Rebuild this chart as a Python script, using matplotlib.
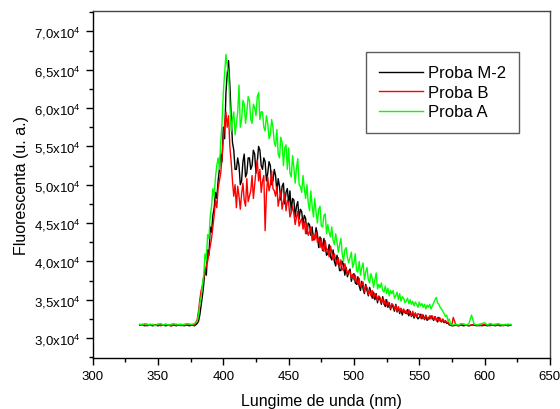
import numpy as np
import matplotlib
matplotlib.use('Agg')
import matplotlib.pyplot as plt
from matplotlib.ticker import MultipleLocator

plt.rcParams['font.family'] = ['Liberation Sans', 'DejaVu Sans']
plt.rcParams['mathtext.fontset'] = 'custom'
plt.rcParams['mathtext.rm'] = 'Liberation Sans'
plt.rcParams['mathtext.it'] = 'Liberation Sans:italic'
plt.rcParams['mathtext.default'] = 'regular'

# ---------------- data (fluorescence in units of 1e4) ----------------
wl_base_left = np.arange(336, 380, 2)     # 22 points
wl_band = np.arange(380, 576, 1)          # 196 points
wl_base_right = np.arange(576, 621, 2)    # 23 points
wavelength = np.concatenate([wl_base_left, wl_band, wl_base_right])

green_left = [3.18, 3.17, 3.19, 3.18, 3.17, 3.18, 3.16, 3.18, 3.19, 3.17, 3.18,
              3.17, 3.18, 3.19, 3.17, 3.18, 3.18, 3.17, 3.19, 3.18, 3.18, 3.19]
green_band = [
    3.22, 3.30, 3.45, 3.52, 3.70, 3.82, 4.10, 4.02, 4.35, 4.30,
    4.60, 4.72, 4.95, 4.85, 5.10, 5.25, 5.35, 5.20, 5.55, 5.80,
    6.20, 6.45, 6.70, 6.55, 6.45, 6.05, 5.70, 5.85, 5.95, 5.65,
    5.80, 5.95, 6.30, 5.75, 5.85, 6.10, 6.05, 5.80, 5.95, 6.15,
    6.10, 5.85, 5.80, 6.05, 6.00, 5.90, 6.15, 6.20, 5.85, 5.95,
    5.95, 5.75, 5.70, 5.90, 5.80, 5.60, 5.65, 5.85, 5.75, 5.55,
    5.50, 5.72, 5.40, 5.35, 5.62, 5.55, 5.25, 5.48, 5.52, 5.20,
    5.48, 5.15, 5.10, 5.38, 5.22, 5.02, 5.22, 5.34, 5.00, 4.98,
    4.90, 5.12, 4.95, 4.82, 5.00, 4.76, 4.66, 4.92, 4.72, 4.58,
    4.82, 4.64, 4.50, 4.68, 4.72, 4.46, 4.45, 4.60, 4.62, 4.36,
    4.48, 4.38, 4.32, 4.45, 4.28, 4.22, 4.36, 4.25, 4.12, 4.22,
    4.30, 4.10, 4.00, 4.15, 4.18, 4.05, 3.98, 4.05, 4.12, 3.92,
    3.98, 4.10, 3.88, 3.86, 4.00, 3.82, 3.92, 3.98, 3.76, 3.86,
    3.92, 3.76, 3.72, 3.84, 3.78, 3.66, 3.76, 3.85, 3.64, 3.70,
    3.66, 3.72, 3.62, 3.60, 3.68, 3.58, 3.65, 3.55, 3.62, 3.58,
    3.62, 3.52, 3.55, 3.60, 3.50, 3.58, 3.48, 3.54, 3.52, 3.46,
    3.48, 3.52, 3.45, 3.50, 3.44, 3.48, 3.42, 3.47, 3.44, 3.40,
    3.47, 3.42, 3.45, 3.40, 3.44, 3.38, 3.43, 3.40, 3.44, 3.38,
    3.42, 3.46, 3.50, 3.53, 3.46, 3.44, 3.40, 3.38, 3.35, 3.32,
    3.28, 3.30, 3.22, 3.25, 3.18, 3.17,
]
green_right = [3.17, 3.18, 3.17, 3.19, 3.18, 3.17, 3.19, 3.30, 3.18, 3.17, 3.18, 3.19,
               3.20, 3.17, 3.19, 3.18, 3.17, 3.19, 3.18, 3.17, 3.18, 3.17, 3.18]

black_left = [3.17, 3.17, 3.16, 3.17, 3.17, 3.16, 3.17, 3.16, 3.17, 3.17, 3.16,
              3.17, 3.16, 3.17, 3.16, 3.17, 3.17, 3.16, 3.17, 3.16, 3.17, 3.16]
black_band = [
    3.19, 3.22, 3.30, 3.42, 3.55, 3.70, 3.90, 3.82, 4.15, 4.08,
    4.45, 4.38, 4.60, 4.70, 4.90, 4.82, 5.05, 5.20, 5.40, 5.30,
    5.75, 5.60, 6.20, 6.45, 6.62, 6.30, 5.90, 5.55, 5.45, 5.20,
    5.20, 5.35, 5.25, 5.00, 5.05, 5.30, 5.40, 5.10, 5.15, 5.35,
    5.35, 5.20, 5.25, 5.45, 5.40, 5.15, 5.30, 5.50, 5.45, 5.25,
    5.20, 5.35, 5.30, 5.05, 5.15, 5.30, 5.25, 5.00, 5.05, 5.20,
    5.12, 4.90, 5.08, 4.98, 4.80, 4.98, 5.02, 4.75, 4.90, 4.95,
    4.75, 4.92, 4.65, 4.82, 4.80, 4.58, 4.72, 4.78, 4.55, 4.68,
    4.65, 4.48, 4.60, 4.56, 4.36, 4.50, 4.48, 4.34, 4.45, 4.28,
    4.30, 4.44, 4.36, 4.18, 4.32, 4.26, 4.14, 4.30, 4.20, 4.08,
    4.10, 4.22, 4.06, 4.02, 4.15, 4.00, 3.94, 4.08, 4.00, 3.88,
    3.88, 4.00, 3.96, 3.82, 3.92, 3.80, 3.86, 3.90, 3.74, 3.82,
    3.84, 3.72, 3.70, 3.80, 3.68, 3.62, 3.74, 3.64, 3.58, 3.70,
    3.62, 3.55, 3.66, 3.60, 3.52, 3.60, 3.50, 3.58, 3.46, 3.54,
    3.50, 3.44, 3.54, 3.45, 3.41, 3.50, 3.40, 3.46, 3.37, 3.44,
    3.40, 3.35, 3.44, 3.34, 3.40, 3.32, 3.38, 3.30, 3.37, 3.33,
    3.32, 3.37, 3.29, 3.35, 3.28, 3.33, 3.26, 3.32, 3.28, 3.25,
    3.27, 3.31, 3.25, 3.30, 3.24, 3.29, 3.23, 3.27, 3.25, 3.29,
    3.26, 3.23, 3.28, 3.24, 3.21, 3.27, 3.23, 3.21, 3.24, 3.20,
    3.22, 3.19, 3.20, 3.17, 3.17, 3.16,
]
black_right = [3.16, 3.17, 3.16, 3.17, 3.16, 3.17, 3.16, 3.17, 3.17, 3.16, 3.17, 3.16,
               3.17, 3.16, 3.17, 3.17, 3.16, 3.17, 3.16, 3.17, 3.17, 3.16, 3.17]

red_left = [3.17, 3.18, 3.17, 3.16, 3.18, 3.17, 3.17, 3.18, 3.16, 3.17, 3.18,
            3.17, 3.16, 3.17, 3.18, 3.17, 3.16, 3.18, 3.17, 3.18, 3.17, 3.17]
red_band = [
    3.24, 3.35, 3.50, 3.62, 3.68, 3.80, 3.85, 3.95, 4.00, 4.10,
    4.20, 4.30, 4.45, 4.60, 4.80, 4.70, 4.95, 5.05, 5.15, 5.35,
    5.60, 5.80, 5.95, 5.75, 5.90, 5.50, 5.30, 5.05, 4.85, 5.00,
    4.70, 4.98, 4.85, 4.68, 4.88, 5.02, 4.80, 4.72, 5.08, 4.78,
    4.85, 4.92, 5.12, 4.82, 5.00, 5.18, 5.32, 5.05, 5.20, 4.90,
    5.05, 5.12, 4.40, 4.88, 5.10, 4.92, 5.00, 5.18, 4.95, 4.92,
    4.85, 4.98, 4.72, 4.82, 4.92, 4.68, 4.78, 4.88, 4.66, 4.80,
    4.76, 4.58, 4.64, 4.72, 4.62, 4.48, 4.58, 4.65, 4.46, 4.52,
    4.56, 4.42, 4.52, 4.36, 4.48, 4.34, 4.38, 4.45, 4.27, 4.36,
    4.28, 4.38, 4.25, 4.30, 4.18, 4.30, 4.16, 4.13, 4.27, 4.15,
    4.16, 4.06, 4.20, 4.12, 4.02, 4.10, 4.03, 3.96, 4.05, 3.92,
    4.02, 3.90, 3.88, 3.97, 3.90, 3.83, 3.88, 3.86, 3.78, 3.83,
    3.76, 3.82, 3.74, 3.70, 3.78, 3.67, 3.70, 3.73, 3.60, 3.68,
    3.66, 3.57, 3.63, 3.55, 3.62, 3.52, 3.58, 3.56, 3.49, 3.55,
    3.53, 3.46, 3.51, 3.44, 3.50, 3.42, 3.47, 3.43, 3.39, 3.45,
    3.43, 3.37, 3.43, 3.35, 3.41, 3.34, 3.39, 3.34, 3.38, 3.33,
    3.36, 3.31, 3.37, 3.32, 3.29, 3.35, 3.28, 3.33, 3.27, 3.32,
    3.31, 3.26, 3.31, 3.27, 3.25, 3.30, 3.26, 3.24, 3.29, 3.25,
    3.29, 3.24, 3.28, 3.23, 3.27, 3.22, 3.26, 3.21, 3.25, 3.21,
    3.23, 3.20, 3.21, 3.18, 3.18, 3.18,
]
red_right = [3.27, 3.17, 3.16, 3.17, 3.18, 3.17, 3.16, 3.17, 3.18, 3.17, 3.16, 3.17,
             3.18, 3.17, 3.16, 3.17, 3.18, 3.17, 3.17, 3.16, 3.17, 3.18, 3.17]

green_vals = green_left + green_band + green_right
black_vals = black_left + black_band + black_right
red_vals = red_left + red_band + red_right

series_labels = ["Proba M-2", "Proba B", "Proba A"]
series_colors = ["#000000", "#ff0000", "#00ff00"]

x_ticks = [300, 350, 400, 450, 500, 550, 600, 650]
y_ticks = [3.0, 3.5, 4.0, 4.5, 5.0, 5.5, 6.0, 6.5, 7.0]
y_tick_labels = [f"{v:.1f}".replace(".", ",") + r"x10$^{4}$" for v in y_ticks]

# ---------------- figure ----------------
fig = plt.figure(figsize=(5.6, 4.1), dpi=100)
ax = fig.add_axes([0.1655, 0.1244, 0.8165, 0.8471])

scale = 1e4
for vals, lab, col in zip([black_vals, red_vals, green_vals], series_labels, series_colors):
    ax.plot(wavelength, np.asarray(vals) * scale, color=col, lw=1.0, label=lab)

ax.set_xlim(300, 650)
ax.set_ylim(2.74 * scale, 7.27 * scale)
ax.set_xticks(x_ticks)
ax.set_xticklabels([str(t) for t in x_ticks])
ax.xaxis.set_minor_locator(MultipleLocator(25))
ax.set_yticks([v * scale for v in y_ticks])
ax.set_yticklabels(y_tick_labels)
ax.yaxis.set_minor_locator(MultipleLocator(0.25 * scale))

ax.tick_params(which='both', direction='out', top=False, right=False,
               labelsize=9.5, color='black')
ax.tick_params(which='major', length=5, width=1)
ax.tick_params(which='minor', length=3, width=1)

for side in ['left', 'bottom']:
    ax.spines[side].set_color('black')
    ax.spines[side].set_linewidth(1.0)
for side in ['top', 'right']:
    ax.spines[side].set_color('#444444')
    ax.spines[side].set_linewidth(1.0)

ax.set_xlabel("Lungime de unda (nm)", fontsize=11.5, labelpad=8)
ax.set_ylabel("Fluorescenta (u. a.)", fontsize=11.5, labelpad=4)

leg = ax.legend(loc='upper left', bbox_to_anchor=(366 / 560, 1 - 53 / 410),
                bbox_transform=fig.transFigure, borderaxespad=0,
                fontsize=12, frameon=True, fancybox=False,
                handlelength=2.6, handletextpad=0.3, labelspacing=0.27,
                borderpad=0.8)
leg.get_frame().set_edgecolor('#333333')
leg.get_frame().set_linewidth(1.0)

fig.savefig("out.png", dpi=100)
